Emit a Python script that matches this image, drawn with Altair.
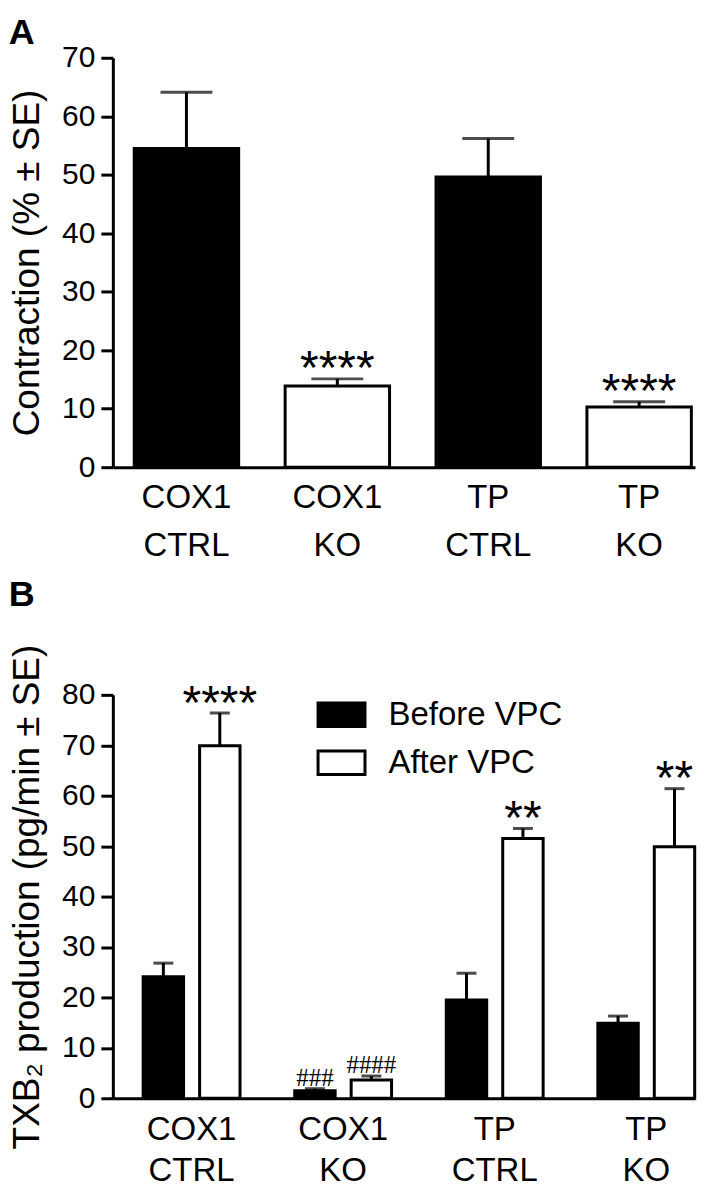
import altair as alt
import pandas as pd

FONT = "Liberation Sans"

# ---------------- data ----------------
groups = ["COX1|CTRL", "COX1|KO", "TP|CTRL", "TP|KO"]
genotype = ["CTRL", "KO", "CTRL", "KO"]

# Panel A: contraction (% ± SE)
contraction_mean = [54.5, 13.9, 49.6, 10.3]
contraction_se = [9.6, 1.2, 6.6, 0.9]
contraction_marks = ["", "****", "", "****"]

# Panel B: TXB2 production (pg/min ± SE)
phases = ["Before VPC", "After VPC"]
txb2_before_mean = [24.1, 1.5, 19.5, 14.9]
txb2_before_se = [2.7, 0.4, 5.3, 1.4]
txb2_after_mean = [69.9, 3.6, 51.5, 49.9]
txb2_after_se = [6.5, 0.8, 2.0, 11.5]
before_marks = ["", "###", "", ""]
after_marks = ["****", "####", "**", "**"]

# ---------------- tables ----------------
dfA = pd.DataFrame({
    "group": groups,
    "genotype": genotype,
    "mean": contraction_mean,
    "se": contraction_se,
    "mark": contraction_marks,
})
dfA["top"] = dfA["mean"] + dfA["se"]

rows = []
for i, g in enumerate(groups):
    rows.append({"group": g, "phase": phases[0], "mean": txb2_before_mean[i],
                 "se": txb2_before_se[i], "mark": before_marks[i]})
    rows.append({"group": g, "phase": phases[1], "mean": txb2_after_mean[i],
                 "se": txb2_after_se[i], "mark": after_marks[i]})
dfB = pd.DataFrame(rows)
dfB["top"] = dfB["mean"] + dfB["se"]

W = 583


def x_axis(line_height, pad):
    return alt.Axis(
        title=None, labelExpr="split(datum.label, '|')", labelAngle=0,
        labelFontSize=33, labelLineHeight=line_height, labelPadding=pad, ticks=False,
        domainWidth=3, labelFont=FONT,
    )


def y_axis(maxv, title):
    return alt.Axis(values=list(range(0, maxv + 1, 10)), title=title,
                    titleFontSize=37, titlePadding=15, labelFontSize=30,
                    tickSize=12, tickWidth=3, domainWidth=3, labelPadding=6,
                    grid=False)


# ---------------- panel A ----------------
xA = alt.X("group:N", sort=groups,
           scale=alt.Scale(paddingInner=0.308, paddingOuter=0.083, align=0.854),
           axis=x_axis(48, 14))
yA = alt.Y("mean:Q", scale=alt.Scale(domain=[0, 70], nice=False),
           axis=y_axis(70, "Contraction (% ± SE)"))

baseA = alt.Chart(dfA)
barsA = baseA.mark_bar(stroke="black", strokeWidth=3).encode(
    x=xA, y=yA,
    fill=alt.Fill("genotype:N", scale=alt.Scale(domain=["CTRL", "KO"], range=["black", "white"]), legend=None),
)
errA = baseA.mark_rule(color="black", strokeWidth=3).encode(
    x=xA, y=alt.Y("mean:Q"), y2="top:Q")
capA = baseA.mark_tick(color="black", size=52, thickness=3, orient="horizontal").encode(
    x=xA, y=alt.Y("top:Q"))
txtA = baseA.mark_text(font=FONT, fontSize=48, baseline="alphabetic", dy=5.5, color="black").encode(
    x=xA, y=alt.Y("top:Q"), text="mark:N")

panelA = alt.layer(barsA, errA, capA, txtA).properties(
    width=W, height=410,
    title=alt.Title("A", anchor="start", frame="bounds", fontSize=36, fontWeight="bold",
                    font=FONT, offset=-9, color="black"),
)

# ---------------- panel B ----------------
xB = alt.X("group:N", sort=groups,
           scale=alt.Scale(paddingInner=0.361, paddingOuter=0.101, align=0.99),
           axis=x_axis(41, 15))
xoB = alt.XOffset("phase:N", sort=phases, scale=alt.Scale(paddingInner=0.284, paddingOuter=0))
yB = alt.Y("mean:Q", scale=alt.Scale(domain=[0, 80], nice=False),
           axis=y_axis(80, "TXB₂ production (pg/min ± SE)"))

baseB = alt.Chart(dfB)
barsB = baseB.mark_bar(stroke="black", strokeWidth=3).encode(
    x=xB, xOffset=xoB, y=yB,
    fill=alt.Fill("phase:N", sort=phases,
                  scale=alt.Scale(domain=phases, range=["black", "white"]),
                  legend=alt.Legend(title=None, orient="none", legendX=204, legendY=-5,
                                    symbolType="M-1,-0.5H1V0.5H-1Z", symbolSize=2209,
                                    symbolStrokeColor="black", symbolStrokeWidth=3,
                                    labelFontSize=33, labelFont=FONT, labelColor="black",
                                    labelLimit=400, labelOffset=22, rowPadding=5,
                                    padding=0)),
)
errB = baseB.mark_rule(color="black", strokeWidth=3).encode(
    x=xB, xOffset=xoB, y=alt.Y("mean:Q"), y2="top:Q")
capB = baseB.mark_tick(color="black", size=20, thickness=3, orient="horizontal").encode(
    x=xB, xOffset=xoB, y=alt.Y("top:Q"))
starsB = baseB.transform_filter("indexof(datum.mark, '*') >= 0").mark_text(
    font=FONT, fontSize=48, baseline="alphabetic", dy=5.5, color="black").encode(
    x=xB, xOffset=xoB, y=alt.Y("top:Q"), text="mark:N")
hashB = baseB.transform_filter("indexof(datum.mark, '#') >= 0").mark_text(
    font="Liberation Serif", fontSize=25, baseline="alphabetic", dy=-3, color="black").encode(
    x=xB, xOffset=xoB, y=alt.Y("top:Q"), text="mark:N")

panelB = alt.layer(barsB, errB, capB, starsB, hashB).properties(
    width=W, height=404,
    title=alt.Title("B", anchor="start", frame="bounds", fontSize=36, fontWeight="bold",
                    font=FONT, offset=30, color="black"),
)

chart = alt.vconcat(panelA, panelB, spacing=15).resolve_scale(
    fill="independent", x="independent", y="independent"
).resolve_legend(fill="independent").properties(
    padding={"left": 0, "top": 6, "right": 0, "bottom": -3}
).configure_view(stroke=None).configure_axis(
    labelFont=FONT, titleFont=FONT, labelColor="black", titleColor="black",
    domainColor="black", tickColor="black", titleFontWeight="normal",
)

chart.save("out.html", embed_options={"renderer": "svg", "actions": False})
